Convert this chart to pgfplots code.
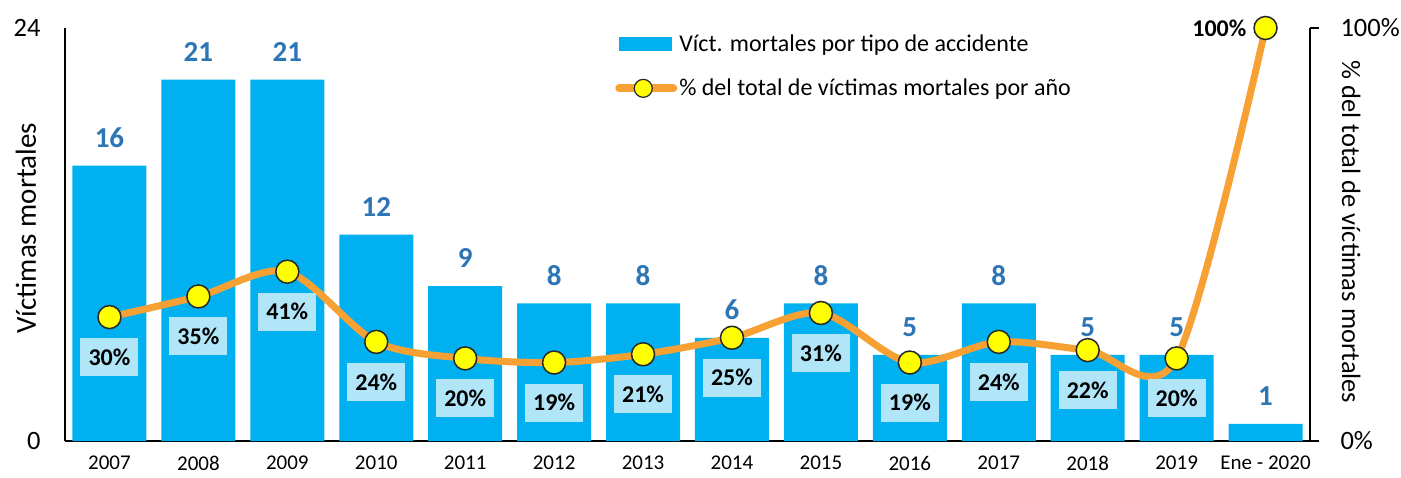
\documentclass[border=0pt]{standalone}
\usepackage{pgfplots}
\pgfplotsset{compat=1.18}
\usepackage{fontspec}
\setmainfont{Carlito}
\definecolor{barblue}{RGB}{0,176,240}
\definecolor{lineorange}{RGB}{247,160,52}
\definecolor{lblblue}{RGB}{46,117,182}
\definecolor{boxblue}{RGB}{176,230,248}
\definecolor{mkyellow}{RGB}{255,255,0}
\definecolor{mkedge}{RGB}{40,40,40}
\begin{document}
\begin{tikzpicture}
\useasboundingbox (-65pt,-36pt) rectangle (1336pt,441pt);
\begin{axis}[
  scale only axis, width=1245pt, height=413pt,
  xmin=-0.5, xmax=13.5, ymin=0, ymax=24,
  axis x line*=bottom, axis y line*=left,
  axis line style={line width=1.6pt, black, -},
  xtick={0,...,13},
  xticklabels={2007,2008,2009,2010,2011,2012,2013,2014,2015,2016,2017,2018,2019,Ene - 2020},
  xtick style={draw=none},
  ytick={0,24}, yticklabels={0,24}, ytick style={draw=none},
  xticklabel style={font=\fontsize{21}{25}\selectfont, inner sep=2pt, yshift=-13pt},
  yticklabel style={font=\fontsize{26.5}{30}\selectfont, xshift=-21pt},
  ylabel={Víctimas mortales},
  ylabel style={font=\fontsize{29}{34}\selectfont, at={(axis description cs:-0.0315,0.515)}, anchor=center},
  /pgf/number format/assume math mode=true,
]
\addplot[ybar, bar width=74pt, fill=barblue, draw=none,
  nodes near coords,
  every node near coord/.append style={font=\bfseries\fontsize{29}{32}\selectfont, text=lblblue, anchor=center, inner sep=0pt, yshift=28pt}]
  coordinates {(0,16)(1,21)(2,21)(3,12)(4,9)(5,8)(6,8)(7,6)(8,8)(9,5)(10,8)(11,5)(12,5)(13,1)};
\end{axis}
\begin{axis}[
  scale only axis, width=1245pt, height=413pt,
  xmin=-0.5, xmax=13.5, ymin=0, ymax=100,
  axis x line=none, axis y line*=right,
  axis line style={line width=1.6pt, black, -},
  ytick={0,100}, yticklabels={0\%,100\%},
  tick align=outside, major tick length=9pt, ytick style={line width=1.6pt, black},
  yticklabel style={font=\fontsize{26.5}{30}\selectfont, xshift=18pt},
  ylabel={\% del total de víctimas mortales},
  ylabel style={font=\fontsize{26.5}{30}\selectfont, at={(axis description cs:1.033,0.506)}, anchor=center, rotate=180},
  /pgf/number format/assume math mode=true,
  legend style={draw=none, fill=none, at={(axis description cs:0.4394,0.993)}, anchor=north west,
    font=\fontsize{24}{28}\selectfont, row sep=22pt, cells={anchor=west}},
  legend cell align=left,
]
\addlegendimage{legend image code/.code={\fill[barblue] (0pt,-6.5pt) rectangle (52pt,6.5pt);}}
\addlegendentry{Víct. mortales por tipo de accidente}
\addplot[smooth, lineorange, line width=7pt, mark=*, mark size=11.5pt,
  mark options={fill=mkyellow, draw=mkedge, line width=1.5pt},
  legend image code/.code={\draw[lineorange, line width=8pt, line cap=round] (0pt,0pt) -- (54pt,0pt);
    \filldraw[fill=mkyellow, draw=mkedge, line width=1.2pt] (24pt,0pt) circle (9pt);}]
  coordinates {(0,30)(1,35)(2,41)(3,24)(4,20)(5,19)(6,21)(7,25)(8,31)(9,19)(10,24)(11,22)(12,20)(13,100)};
\addlegendentry{\% del total de víctimas mortales por año}
\addplot[draw=none, mark=none, forget plot,
  nodes near coords={\pgfmathprintnumber{\pgfplotspointmeta}\%},
  every node near coord/.append style={font=\bfseries\fontsize{24}{26}\selectfont, text=black, fill=boxblue,
    minimum width=58pt, minimum height=38pt, inner sep=0pt, anchor=center, yshift=-40pt}]
  coordinates {(0,30)(1,35)(2,41)(3,24)(4,20)(5,19)(6,21)(7,25)(8,31)(9,19)(10,24)(11,22)(12,20)};
\addplot[draw=none, mark=none, forget plot,
  nodes near coords={\pgfmathprintnumber{\pgfplotspointmeta}\%},
  every node near coord/.append style={font=\bfseries\fontsize{24}{26}\selectfont, text=black,
    inner sep=0pt, anchor=east, xshift=-19pt, yshift=0pt}]
  coordinates {(13,100)};
\end{axis}
\end{tikzpicture}
\end{document}
